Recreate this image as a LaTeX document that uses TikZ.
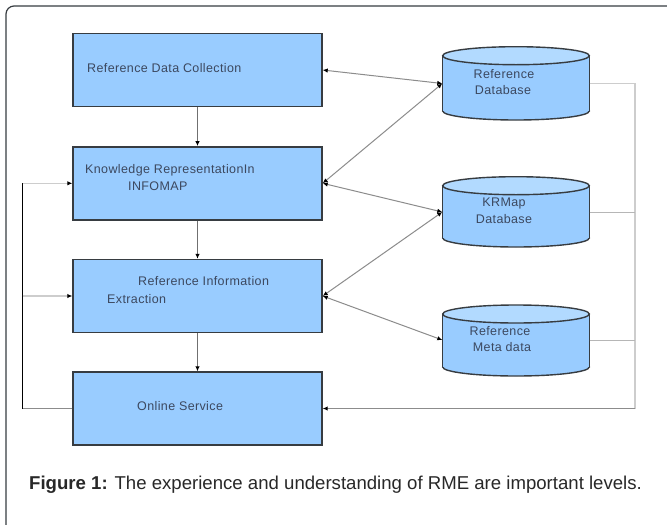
\documentclass[tikz,border=0pt]{standalone}
\usepackage{fontspec}
\setmainfont{Liberation Sans}
\newfontfamily\boxfont[LetterSpace=3]{Liberation Sans}
\usetikzlibrary{arrows.meta}
\definecolor{boxfill}{RGB}{153,204,255}
\definecolor{topfill}{RGB}{178,218,255}
\definecolor{edge}{RGB}{55,60,65}
\definecolor{btext}{RGB}{60,72,95}
\definecolor{conn}{RGB}{140,140,140}
\definecolor{lightconn}{RGB}{205,205,205}
\definecolor{captext}{RGB}{40,40,40}
\tikzset{
  procbox/.style={draw=edge, line width=1.4pt, fill=boxfill, minimum width=249pt, minimum height=73pt, inner sep=0pt},
  dbarea/.style={minimum width=147pt, minimum height=73pt, inner sep=0pt},
  boxtxt/.style={text=btext, font=\boxfont\fontsize{12.5}{14}\selectfont, inner sep=0pt, anchor=west},
  dbtxt/.style={text=btext, font=\boxfont\fontsize{12.5}{14}\selectfont, inner sep=0pt},
  tip/.style={-{Latex[length=5pt,width=4.5pt,color=black]}},
  tips/.style={{Latex[length=5pt,width=4.5pt,color=black]}-{Latex[length=5pt,width=4.5pt,color=black]}},
  cline/.style={draw=conn, line width=1pt},
}
\newcommand{\dbcylinder}[3]{% cx, top ellipse centre y, bottom ellipse centre y
  \fill[boxfill, draw=edge, line width=1.4pt] (#1,#3) ellipse [x radius=73.3, y radius=9];
  \fill[boxfill] (#1-73.3,#2) rectangle (#1+73.3,#3);
  \draw[edge, line width=1.4pt] (#1-73.3,#2) -- (#1-73.3,#3) (#1+73.3,#2) -- (#1+73.3,#3);
  \fill[topfill, draw=edge, line width=1.4pt] (#1,#2) ellipse [x radius=73.3, y radius=9];
}
\begin{document}
\begin{tikzpicture}[x=1pt,y=-1pt]
\useasboundingbox (0,0) rectangle (667,525);
\clip (0,0) rectangle (667,525);
\fill[white] (0,0) rectangle (667,525);
\draw[edge, line width=1.2pt, rounded corners=8pt] (6,6) rectangle (690,535);

% process boxes
\node[procbox] (b1) at (197.5,70) {};
\node[procbox] (b2) at (197.5,183.3) {};
\node[procbox] (b3) at (197.5,296) {};
\node[procbox] (b4) at (197.5,408.5) {};

\node[boxtxt] (t1) at (87,68) {Reference Data Collection};
\node[boxtxt] (t2a) at (85,170) {Knowledge RepresentationIn};
\node[boxtxt] (t2b) at (128,186) {INFOMAP};
\node[boxtxt] (t3a) at (138,281) {Reference Information};
\node[boxtxt] (t3b) at (107,299) {Extraction};
\node[boxtxt] (t4) at (137,406) {Online Service};

% databases
\dbcylinder{516}{55.7}{111}
\dbcylinder{516}{185.7}{238}
\dbcylinder{516}{314}{367}
\node[dbarea] (c1) at (516,83.5) {};
\node[dbarea] (c2) at (516,212) {};
\node[dbarea] (c3) at (516,340) {};

\node[dbtxt] (d1a) at (504,74) {Reference};
\node[dbtxt] (d1b) at (503,90) {Database};
\node[dbtxt] (d2a) at (504,203) {KRMap};
\node[dbtxt] (d2b) at (504,219) {Database};
\node[dbtxt] (d3a) at (500,331) {Reference};
\node[dbtxt] (d3b) at (502,347) {Meta data};

% vertical flow
\draw[cline, draw=conn!80!black, tip] (b1.south) -- (b2.north);
\draw[cline, draw=conn!80!black, tip] (b2.south) -- (b3.north);
\draw[cline, draw=conn!80!black, tip] (b3.south) -- (b4.north);

% diagonal links
\draw[cline, tips] (b1.east) -- (c1.west);
\draw[cline, tips] (c1.west) -- (b2.east);
\draw[cline, tips] (b2.east) -- (c2.west);
\draw[cline, tips] (c2.west) -- (b3.east);
\draw[cline, tips] (b3.east) -- (c3.west);

% right bus
\coordinate (r1) at (635,83.5);
\coordinate (r2) at (635,212);
\coordinate (r3) at (635,340);
\coordinate (r4) at (635,408.5);
\draw[draw=lightconn, line width=1.2pt] (c1.east) -- (r1) -- (r4);
\draw[draw=lightconn!70!gray, line width=1pt] (c2.east) -- (r2);
\draw[draw=lightconn!70!gray, line width=1pt] (c3.east) -- (r3);
\draw[draw=conn, line width=1.6pt, tip] (r4) -- (b4.east);

% left feedback bus
\coordinate (l4) at (22.7,408.5);
\coordinate (l2) at (22.7,183.3);
\coordinate (l3) at (22.7,296);
\draw[draw=conn, line width=1.2pt] (b4.west) -- (l4);
\draw[draw=black, line width=1.2pt] (l4) -- (l2);
\draw[draw=lightconn, line width=1.2pt, tip] (l2) -- (b2.west);
\draw[draw=lightconn, line width=1.2pt, tip] (l3) -- (b3.west);

% caption
\node[anchor=west, inner sep=0pt, text=captext, font=\fontsize{18.6}{21}\selectfont] (cap) at (29,485)
  {\textbf{Figure 1:} The experience and understanding of RME are important levels.};
\end{tikzpicture}
\end{document}
